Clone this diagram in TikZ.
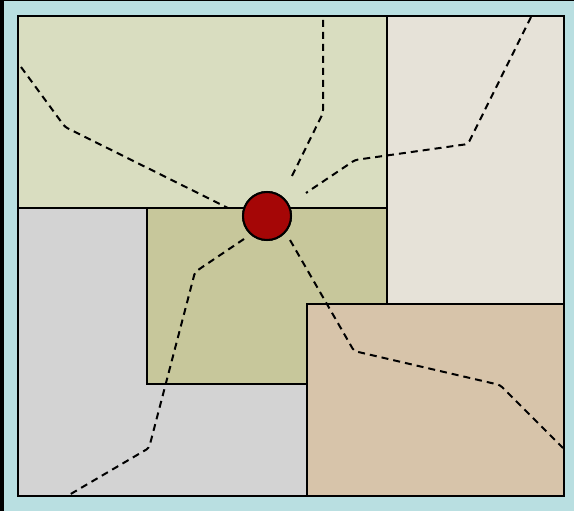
\documentclass[tikz,border=0pt]{standalone}
\begin{document}
\begin{tikzpicture}[x=1pt,y=-1pt,
  region/.style={draw=black,line width=2pt},
  route/.style={draw=black,line width=2pt,dash pattern=on 7pt off 5pt,rounded corners=3pt},
  hub/.style={circle,draw=black,line width=2pt,fill=hubred,minimum size=48pt,inner sep=0pt}]
\definecolor{bgblue}{HTML}{B9DFE1}
\definecolor{greenA}{HTML}{D9DDC0}
\definecolor{beigeA}{HTML}{E6E2D8}
\definecolor{grayA}{HTML}{D3D3D3}
\definecolor{oliveA}{HTML}{C7C79B}
\definecolor{tanA}{HTML}{D7C4AA}
\definecolor{hubred}{HTML}{A50606}
\useasboundingbox (0,0) rectangle (574,511);
\fill[bgblue] (0,0) rectangle (574,511);
\fill[black] (0,0) rectangle (4,511);
\fill[black] (0,0) rectangle (574,1.3);
% regions
\path[region,fill=greenA] (18,16) rectangle (387,208);
\path[region,fill=beigeA] (387,16) rectangle (564,304);
\path[region,fill=grayA] (18,208) rectangle (387,496);
\path[region,fill=oliveA] (147,208) rectangle (387,384);
\path[region,fill=tanA] (307,304) rectangle (564,496);
\draw[line width=2pt] (18,16) rectangle (564,496);
% hub
\node[hub] (hub) at (267,216) {};
\coordinate (e1) at (21,67);
\coordinate (v1) at (65,127);
\coordinate (s1) at (228,208);
\coordinate (e2) at (323,20);
\coordinate (v2) at (323,113);
\coordinate (s2) at (291,178);
\coordinate (e3) at (531,17);
\coordinate (v3a) at (468,144);
\coordinate (v3b) at (355,160);
\coordinate (s3) at (306,193);
\coordinate (e4) at (563,448);
\coordinate (v4a) at (500,385);
\coordinate (v4b) at (354,351);
\coordinate (s4) at (290,240);
\coordinate (e5) at (69,495);
\coordinate (v5a) at (149,448);
\coordinate (v5b) at (195,272);
\coordinate (s5) at (244,239);
\path[route] (e1) -- (v1) -- (s1);
\path[route] (e2) -- (v2) -- (s2);
\path[route] (e3) -- (v3a) -- (v3b) -- (s3);
\path[route] (s4) -- (v4b) -- (v4a) -- (e4);
\path[route] (s5) -- (v5b) -- (v5a) -- (e5);
\node[hub] at (hub) {};
\end{tikzpicture}
\end{document}
